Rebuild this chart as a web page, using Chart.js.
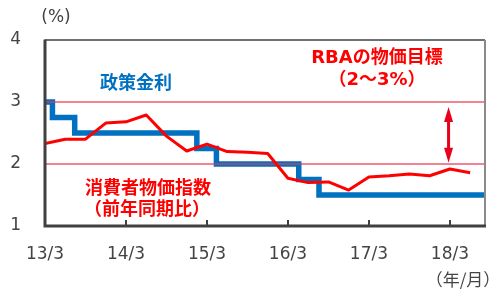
<!DOCTYPE html>
<html>
<head>
<meta charset="utf-8">
<script src="https://cdn.jsdelivr.net/npm/chart.js@4"></script>
<style>
html,body{margin:0;padding:0;background:#fff;}
#wrap{width:500px;height:294px;position:relative;}
</style>
</head>
<body>
<div id="wrap"><canvas id="c"></canvas></div>
<script>
// x axis: months since 2013/3
const tickMonths = [0, 12, 24, 36, 48, 60];
const tickLabels = ['13/3', '14/3', '15/3', '16/3', '17/3', '18/3'];
const yTicks = [1, 2, 3, 4];
const xMax = 65.2;

// CPI (yoy), quarterly from 13/3
const cpiMonths = [0,3,6,9,12,15,18,21,24,27,30,33,36,39,42,45,48,51,54,57,60,63];
const cpiValues = [2.33,2.40,2.40,2.66,2.68,2.79,2.45,2.21,2.32,2.20,2.19,2.17,1.77,1.70,1.71,1.58,1.79,1.81,1.84,1.81,1.92,1.86];

// Policy rate: change months and new levels
const rateMonths = [0, 1.1, 4.4, 22.5, 25.4, 37.6, 40.6, 65.2];
const rateValues = [3.0, 2.75, 2.5, 2.25, 2.0, 1.75, 1.5, 1.5];

// Inflation target band
const targetLow = 2;
const targetHigh = 3;
const arrowMonth = 59.8;
const arrowFrom = 2.02;
const arrowTo = 2.92;

const labelsText = {
  rate: '政策金利',
  target1: 'RBAの物価目標',
  target2: '（2～3%）',
  cpi1: '消費者物価指数',
  cpi2: '（前年同期比）',
  yUnit: '(%)',
  xUnit: '（年/月）'
};

const pts = (xs, ys) => xs.map((x, i) => ({x: x, y: ys[i]}));
const pink = 'rgba(232,55,80,0.62)';

const deco = {
  id: 'deco',
  afterDraw(chart) {
    const ctx = chart.ctx;
    const a = chart.chartArea;
    const xs = chart.scales.x, ys = chart.scales.y;
    ctx.save();
    // inward x tick marks
    ctx.strokeStyle = '#404040';
    ctx.lineWidth = 2;
    tickMonths.forEach(m => {
      const px = Math.round(xs.getPixelForValue(m));
      ctx.beginPath();
      ctx.moveTo(px, a.bottom);
      ctx.lineTo(px, a.bottom - 6);
      ctx.stroke();
    });
    // frame
    ctx.strokeStyle = '#404040';
    ctx.lineWidth = 1.5;
    ctx.beginPath(); ctx.moveTo(a.left, a.top); ctx.lineTo(a.right, a.top); ctx.stroke();
    ctx.strokeStyle = '#8a8a8a';
    ctx.lineWidth = 2;
    ctx.beginPath(); ctx.moveTo(a.right, a.top); ctx.lineTo(a.right, a.bottom); ctx.stroke();
    ctx.strokeStyle = '#404040';
    ctx.lineWidth = 3;
    ctx.beginPath(); ctx.moveTo(a.left, a.top - 0.5); ctx.lineTo(a.left, a.bottom); ctx.lineTo(a.right + 1, a.bottom); ctx.stroke();

    // double arrow
    const ax = xs.getPixelForValue(arrowMonth);
    const yTop = ys.getPixelForValue(arrowTo);
    const yBot = ys.getPixelForValue(arrowFrom);
    ctx.fillStyle = '#E8001C';
    ctx.strokeStyle = '#E8001C';
    ctx.lineWidth = 3;
    ctx.beginPath(); ctx.moveTo(ax, yTop + 12); ctx.lineTo(ax, yBot - 12); ctx.stroke();
    ctx.beginPath(); ctx.moveTo(ax, yTop); ctx.lineTo(ax - 4.5, yTop + 15); ctx.lineTo(ax + 4.5, yTop + 15); ctx.closePath(); ctx.fill();
    ctx.beginPath(); ctx.moveTo(ax, yBot); ctx.lineTo(ax - 4.5, yBot - 15); ctx.lineTo(ax + 4.5, yBot - 15); ctx.closePath(); ctx.fill();

    // texts
    ctx.textAlign = 'center';
    ctx.textBaseline = 'middle';
    const jp = 'bold 18px "Noto Sans CJK JP", sans-serif';
    const mix = 'bold 18px "DejaVu Sans", "Noto Sans CJK JP", sans-serif';
    ctx.font = jp;
    ctx.fillStyle = '#0070C0';
    ctx.fillText(labelsText.rate, 136, 82);
    ctx.fillStyle = '#FF0000';
    ctx.font = mix;
    ctx.fillText(labelsText.target1, 377, 58);
    ctx.fillText(labelsText.target2, 377, 80);
    ctx.font = jp;
    ctx.fillText(labelsText.cpi1, 148, 187);
    ctx.fillText(labelsText.cpi2, 147, 208);

    ctx.fillStyle = '#444';
    ctx.font = '17px "DejaVu Sans", sans-serif';
    ctx.fillText(labelsText.yUnit, 56, 18);
    ctx.font = '17px "Noto Sans CJK JP", sans-serif';
    ctx.fillText(labelsText.xUnit, 463, 280);
    ctx.restore();
  }
};

new Chart(document.getElementById('c'), {
  type: 'line',
  data: {
    datasets: [
      {
        label: 'CPI',
        data: pts(cpiMonths, cpiValues),
        borderColor: '#FF0000',
        borderWidth: 3,
        pointRadius: 0,
        tension: 0,
        borderJoinStyle: 'round'
      },
      {
        label: 'target high',
        data: pts([0, xMax], [targetHigh, targetHigh]),
        borderColor: pink,
        borderWidth: 2,
        pointRadius: 0
      },
      {
        label: 'target low',
        data: pts([0, xMax], [targetLow, targetLow]),
        borderColor: pink,
        borderWidth: 2,
        pointRadius: 0
      },
      {
        label: 'rate',
        data: pts(rateMonths, rateValues),
        borderColor: '#0070C0',
        borderWidth: 5.5,
        pointRadius: 0,
        stepped: true,
        borderJoinStyle: 'miter',
        borderCapStyle: 'butt'
      }
    ]
  },
  options: {
    responsive: true,
    maintainAspectRatio: false,
    animation: false,
    events: [],
    layout: {padding: {top: 40, right: 15, left: 0, bottom: 0}},
    plugins: {legend: {display: false}, tooltip: {enabled: false}},
    scales: {
      x: {
        type: 'linear',
        min: 0,
        max: xMax,
        afterBuildTicks: s => { s.ticks = tickMonths.map(v => ({value: v})); },
        afterFit: s => { s.height = 68; },
        grid: {display: false, drawTicks: false},
        border: {display: false},
        ticks: {
          autoSkip: false,
          maxRotation: 0,
          padding: 18,
          color: '#444',
          font: {family: 'DejaVu Sans', size: 17},
          callback: (v) => { const i = tickMonths.indexOf(v); return i >= 0 ? tickLabels[i] : ''; }
        }
      },
      y: {
        min: 1,
        max: 4,
        afterBuildTicks: s => { s.ticks = yTicks.map(v => ({value: v})); },
        afterFit: s => { s.width = 45; },
        grid: {display: false, drawTicks: false},
        border: {display: false},
        ticks: {
          padding: 24,
          color: '#444',
          font: {family: 'DejaVu Sans', size: 17}
        }
      }
    }
  },
  plugins: [deco]
});
</script>
</body>
</html>
